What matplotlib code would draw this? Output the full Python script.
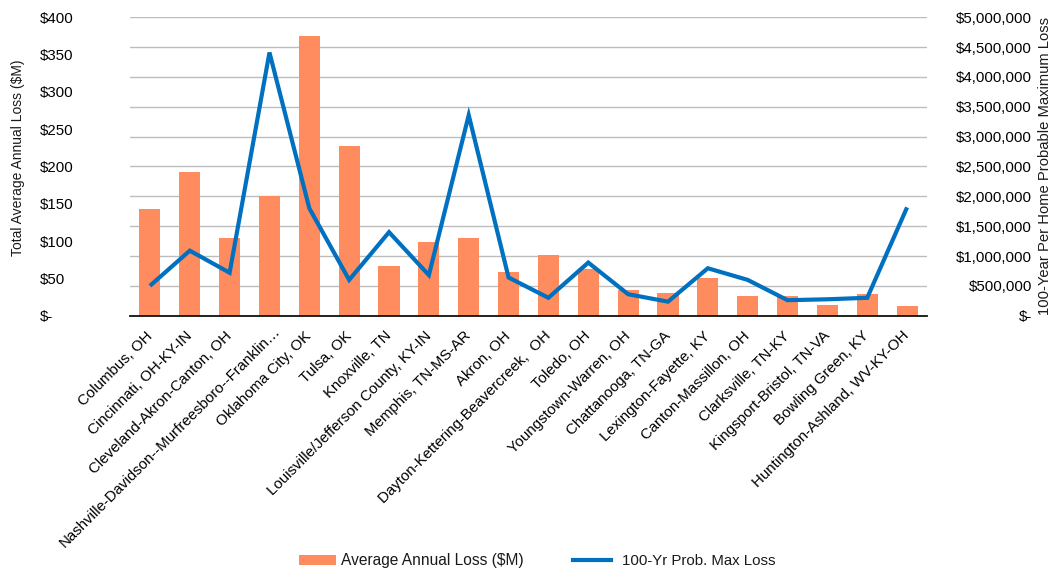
import numpy as np
import matplotlib
matplotlib.use("Agg")
import matplotlib.pyplot as plt
import matplotlib.transforms as mtransforms
from matplotlib.ticker import FixedLocator
from matplotlib.patches import Patch
from matplotlib.lines import Line2D

plt.rcParams["font.family"] = ["Liberation Sans", "DejaVu Sans"]
plt.rcParams["font.size"] = 10.8
plt.rcParams["text.color"] = "#1a1a1a"

# Metro areas, in chart order
metros = [
    "Columbus, OH",
    "Cincinnati, OH-KY-IN",
    "Cleveland-Akron-Canton, OH",
    "Nashville-Davidson--Murfreesboro--Franklin…",
    "Oklahoma City, OK",
    "Tulsa, OK",
    "Knoxville, TN",
    "Louisville/Jefferson County, KY-IN",
    "Memphis, TN-MS-AR",
    "Akron, OH",
    "Dayton-Kettering-Beavercreek,  OH",
    "Toledo, OH",
    "Youngstown-Warren, OH",
    "Chattanooga, TN-GA",
    "Lexington-Fayette, KY",
    "Canton-Massillon, OH",
    "Clarksville, TN-KY",
    "Kingsport-Bristol, TN-VA",
    "Bowling Green, KY",
    "Huntington-Ashland, WV-KY-OH",
]

# Total average annual loss, $M
avg_annual_loss = [143, 193, 104, 160, 375, 228, 67, 99, 104, 58,
                   82, 62, 34, 31, 51, 27, 26, 14, 29, 13]

# 100-year per-home probable maximum loss, $
pml_100yr = [500000, 1090000, 720000, 4410000, 1800000, 600000, 1400000,
             680000, 3360000, 640000, 300000, 890000, 360000, 235000,
             795000, 600000, 260000, 275000, 300000, 1815000]

left_ticks = [0, 50, 100, 150, 200, 250, 300, 350, 400]
left_labels = ["$-", "$50", "$100", "$150", "$200", "$250", "$300", "$350", "$400"]
right_ticks = [0, 500000, 1000000, 1500000, 2000000, 2500000, 3000000,
               3500000, 4000000, 4500000, 5000000]
right_labels = ["$-", "$500,000", "$1,000,000", "$1,500,000", "$2,000,000",
                "$2,500,000", "$3,000,000", "$3,500,000", "$4,000,000",
                "$4,500,000", "$5,000,000"]

LEFT_MAX = 400
RIGHT_MAX = 5000000

BAR_COLOR = "#FF8C5F"
LINE_COLOR = "#0070C0"
GRID_COLOR = "#BDBDBD"

W, H = 1058, 571
fig = plt.figure(figsize=(W / 100, H / 100), dpi=100)
ax = fig.add_axes([130 / W, (H - 315.7) / H, (927 - 130) / W, (315.7 - 17.3) / H])

x = np.arange(len(metros))
ax.bar(x, avg_annual_loss, width=0.53, color=BAR_COLOR, zorder=2)
ax.set_xlim(-0.5, len(metros) - 0.5)
ax.set_ylim(0, LEFT_MAX)

# Left value axis
ax.yaxis.set_major_locator(FixedLocator(left_ticks))
ax.set_yticklabels(left_labels)
for lbl in ax.get_yticklabels():
    lbl.set_horizontalalignment("left")
ax.tick_params(axis="y", which="both", length=0, pad=64.8)

# Horizontal gridlines follow the right-hand axis steps
ax.yaxis.set_minor_locator(FixedLocator([t * LEFT_MAX / RIGHT_MAX for t in right_ticks]))
ax.yaxis.remove_overlapping_locs = False
ax.grid(which="minor", axis="y", color=GRID_COLOR, lw=1.0, zorder=0)
ax.grid(which="major", axis="y", visible=False)
ax.set_axisbelow(True)

# Category axis, labels slanted and anchored at their right end
ax.set_xticks(x)
ax.set_xticklabels(metros, rotation=45, ha="right", va="center",
                   rotation_mode="anchor")
ax.tick_params(axis="x", length=0, pad=13)
for i, lbl in enumerate(ax.get_xticklabels()):
    # the truncated Nashville label sits a little up and right of its tick
    dx, dy = (9, 5) if metros[i].endswith("…") else (0, 0)
    shift = mtransforms.ScaledTranslation(dx / 100, dy / 100, fig.dpi_scale_trans)
    lbl.set_transform(lbl.get_transform() + shift)

for side in ("left", "right", "top"):
    ax.spines[side].set_visible(False)
ax.spines["bottom"].set_color("#111111")
ax.spines["bottom"].set_linewidth(1.3)
ax.spines["bottom"].set_zorder(3)

# Secondary axis with the probable maximum loss line
ax2 = ax.twinx()
ax2.plot(x, pml_100yr, color=LINE_COLOR, lw=3.0, solid_joinstyle="miter",
         solid_capstyle="butt", zorder=4)
ax2.set_ylim(0, RIGHT_MAX)
ax2.yaxis.set_major_locator(FixedLocator(right_ticks))
ax2.set_yticklabels(right_labels)
for lbl in ax2.get_yticklabels():
    lbl.set_horizontalalignment("right")
ax2.tick_params(axis="y", length=0, pad=75.6)
for side in ("left", "right", "top", "bottom"):
    ax2.spines[side].set_visible(False)

fig.text(18 / W, 1 - 158 / H, "Total Average Annual Loss ($M)",
         rotation=90, ha="center", va="center", fontsize=10)
fig.text(1045 / W, 1 - 166 / H, "100-Year Per Home Probable Maximum Loss",
         rotation=90, ha="center", va="center", fontsize=10.6)

# Two legend entries, each placed on its own
legend_kw = dict(loc="center left", frameon=False, borderpad=0, borderaxespad=0,
                 handleheight=0.6)
fig.legend(handles=[Patch(facecolor=BAR_COLOR, edgecolor="none",
                          label="Average Annual Loss ($M)")],
           bbox_to_anchor=(299 / W, 1 - 561 / H), handlelength=2.4,
           handletextpad=0.33, fontsize=11.2, **legend_kw)
fig.legend(handles=[Line2D([0], [0], color=LINE_COLOR, lw=3.0,
                           label="100-Yr Prob. Max Loss")],
           bbox_to_anchor=(573 / W, 1 - 561 / H), handlelength=2.5,
           handletextpad=0.8, fontsize=10.8, **legend_kw)

fig.savefig("out.png", dpi=100)
